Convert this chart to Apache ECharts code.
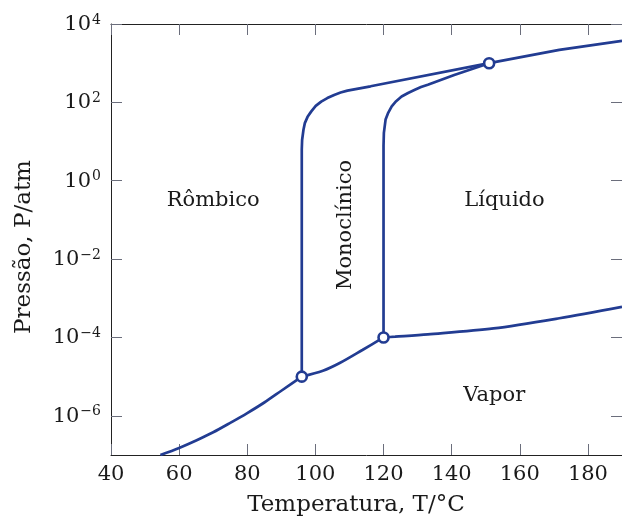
<!DOCTYPE html>
<html>
<head>
<meta charset="utf-8">
<script src="https://cdn.jsdelivr.net/npm/echarts@6/dist/echarts.min.js"></script>
<style>
html,body{margin:0;padding:0;background:#fff;}
#c{width:622px;height:518px;}
</style>
</head>
<body>
<div id="c"></div>
<script>
// ---- data (temperature °C, log10 of pressure in atm) ----
var xTicks = [40, 60, 80, 100, 120, 140, 160, 180];
var yTicks = [-6, -4, -2, 0, 2, 4]; // exponents of 10

// rhombic - vapor (sublimation)
var rvT = [54.5, 60, 65, 70, 75, 80, 85, 90, 96];
var rvLogP = [-7.0, -6.82, -6.63, -6.42, -6.18, -5.93, -5.66, -5.36, -5.0];

// rhombic - monoclinic
var rmT = [96, 96, 96.1, 96.5, 96.9, 97.7, 98.8, 100.1, 101.7, 103.5, 105.5, 107.4, 109.4, 116.2, 151];
var rmLogP = [-5.0, 0.8, 1.04, 1.30, 1.47, 1.63, 1.77, 1.91, 2.02, 2.11, 2.19, 2.25, 2.30, 2.41, 3.0];

// monoclinic - liquid
var mlT = [120, 120, 120.1, 120.6, 121.4, 122.4, 123.7, 125.3, 127.2, 129.2, 131.0, 133.0, 140.75, 151];
var mlLogP = [-4.0, 0.9, 1.22, 1.56, 1.74, 1.90, 2.03, 2.15, 2.24, 2.32, 2.39, 2.45, 2.70, 3.0];

// rhombic - liquid (beyond triple point)
var rlT = [151, 171.6, 190];
var rlLogP = [3.0, 3.34, 3.57];

// monoclinic - vapor
var mvT = [96, 102.2, 107, 113.8, 120];
var mvLogP = [-5.0, -4.85, -4.66, -4.32, -4.0];

// liquid - vapor
var lvT = [120, 123.4, 133, 152.3, 171.6, 190];
var lvLogP = [-4.0, -3.98, -3.92, -3.77, -3.51, -3.22];

// triple points
var tpT = [96, 120, 151];
var tpLogP = [-5.0, -4.0, 3.0];

// region labels
var regionNames = ['Rômbico', 'Monoclínico', 'Líquido', 'Vapor'];
var regionT = [70.0, 108.8, 155.5, 152.5];
var regionLogP = [-0.51, -1.13, -0.51, -5.47];
var regionRotate = [0, 90, 0, 0];

// ---- chart ----
var FONT = 'DejaVu Serif';
var BLUE = '#223c92';
var TXT = '#1a1a1a';
var TICK = '#6b6e7c';

function zip(a, b) { return a.map(function (v, i) { return [v, b[i]]; }); }
function lineSeries(T, L, smooth) {
  return {
    type: 'line', data: zip(T, L), showSymbol: false, smooth: smooth ? 0.3 : false,
    lineStyle: { color: BLUE, width: 2.7 }, z: 3, silent: true, animation: false
  };
}

var chart = echarts.init(document.getElementById('c'), null, { renderer: 'canvas' });

var axisCommonX = {
  type: 'value', min: 40, max: 190, interval: 20,
  splitLine: { show: false },
  axisLine: { show: true, onZero: false, lineStyle: { color: '#222', width: 1 } },
  axisTick: { show: true, inside: true, length: 11, customValues: xTicks, lineStyle: { color: TICK, width: 1 } }
};
var axisCommonY = {
  type: 'value', min: -7, max: 4,
  splitLine: { show: false },
  axisLine: { show: true, onZero: false, lineStyle: { color: '#222', width: 1 } },
  axisTick: { show: true, inside: true, length: 11, customValues: yTicks, lineStyle: { color: TICK, width: 1 } }
};

var series = [
  lineSeries(rvT, rvLogP, true),
  lineSeries(rmT, rmLogP, false),
  lineSeries(mlT, mlLogP, false),
  lineSeries(rlT, rlLogP, false),
  lineSeries(mvT, mvLogP, true),
  lineSeries(lvT, lvLogP, true),
  {
    type: 'scatter', data: zip(tpT, tpLogP), symbol: 'circle', symbolSize: 10,
    itemStyle: { color: '#ffffff', opacity: 1, borderColor: BLUE, borderWidth: 2.6 }, z: 5, silent: true, animation: false
  },
  {
    type: 'scatter', symbolSize: 0, silent: true, animation: false, z: 6,
    itemStyle: { opacity: 1 },
    data: regionNames.map(function (n, i) {
      return {
        name: n, value: [regionT[i], regionLogP[i]],
        label: { show: true, position: 'inside', formatter: n, rotate: regionRotate[i],
          fontFamily: FONT, fontSize: 21, color: TXT, opacity: 1 }
      };
    })
  }
];

chart.setOption({
  backgroundColor: '#fff',
  animation: false,
  grid: { left: 111, right: -8, top: 24, bottom: 63, containLabel: false },
  xAxis: [
    Object.assign({}, axisCommonX, {
      position: 'bottom',
      axisLabel: { show: true, customValues: xTicks, margin: 9, fontFamily: FONT, fontSize: 21, color: TXT }
    }),
    Object.assign({}, axisCommonX, { position: 'top', axisLabel: { show: false } })
  ],
  yAxis: [
    Object.assign({}, axisCommonY, {
      position: 'left',
      axisLabel: {
        show: true, customValues: yTicks, margin: 10,
        formatter: function (v) { return '{b|10}{s|' + (v < 0 ? '\u2212' + (-v) : v) + '}'; },
        rich: {
          b: { fontFamily: FONT, fontSize: 21, color: TXT, lineHeight: 22, verticalAlign: 'bottom' },
          s: { fontFamily: FONT, fontSize: 14, color: TXT, lineHeight: 14, verticalAlign: 'top', padding: [0, 0, 0, 1] }
        }
      }
    }),
    Object.assign({}, axisCommonY, { position: 'right', axisLabel: { show: false } })
  ],
  graphic: [
    { type: 'text', x: 356, y: 505, style: { text: 'Temperatura, T/\u00b0C', fontFamily: FONT, fontSize: 23, fill: TXT, textAlign: 'center', textVerticalAlign: 'middle' } },
    { type: 'text', x: 24, y: 247, rotation: Math.PI / 2, style: { text: 'Pressão, P/atm', fontFamily: FONT, fontSize: 23, fill: TXT, textAlign: 'center', textVerticalAlign: 'middle' } }
  ],
  series: series
});
</script>
</body>
</html>
